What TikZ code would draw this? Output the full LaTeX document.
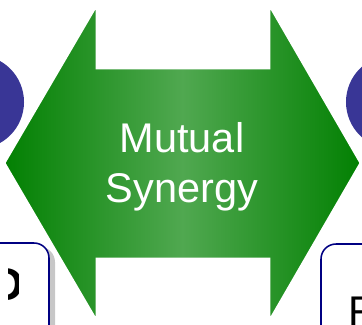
\documentclass[tikz,border=0pt]{standalone}
\usepackage{fontspec}
\setmainfont{Liberation Sans}
\usetikzlibrary{arrows,shadows}

\definecolor{ballblue}{RGB}{57,54,150}
\definecolor{greenedge}{RGB}{2,128,2}
\definecolor{greenmid}{RGB}{80,168,80}
\definecolor{panelnavy}{RGB}{0,0,130}

\begin{document}
\begin{tikzpicture}[x=0.025cm,y=-0.025cm]
\useasboundingbox (0,0) rectangle (362,324);
\clip (0,0) rectangle (362,324);

% corners of the double arrow
\def\tipl{(4,163)}
\def\tipr{(361,163)}
\def\hlt{(97,4)}
\def\hlb{(97,322)}
\def\hrt{(269,4)}
\def\hrb{(269,322)}
\def\slt{(97,68)}
\def\slb{(97,259)}
\def\srt{(269,68)}
\def\srb{(269,259)}

\tikzstyle ball=[fill=ballblue]
\tikzstyle panel=[draw=panelnavy, fill=white, line width=1.1pt, rounded corners=0.375cm]
\tikzstyle panelshadow=[fill=black!22, rounded corners=0.375cm]
\tikzstyle bigtext=[inner sep=0pt, font=\fontsize{29.5}{35}\selectfont]

% the two blue discs
\foreach \c in {(-23,102),(393,102)} \fill[ball] \c circle (1.175cm);

% panels underneath
\fill[panelshadow] (-40,247) rectangle (55,380);
\draw[panel] (-40,243) rectangle (49,380);
\draw[panel] (321,244) rectangle (420,380);
\begin{scope}
\clip (8,250) rectangle (18,310);
\node[inner sep=0pt, anchor=base west, font=\fontsize{33}{38}\selectfont\bfseries] (leftword) at (-9.3,300) {D};
\end{scope}
\node[bigtext, anchor=base west] (rightword) at (348,325) {F};

% double arrow with a white rim
\shadedraw[draw=white, line width=2pt, line join=miter,
  left color=greenedge, right color=greenedge, middle color=greenmid]
  \tipl -- \hlt -- \slt -- \srt -- \hrt -- \tipr -- \hrb -- \srb -- \slb -- \hlb -- cycle;

\node[bigtext, text=white, align=center, anchor=base] (synergy) at (182,202) {Mutual\\Synergy};
\end{tikzpicture}
\end{document}
